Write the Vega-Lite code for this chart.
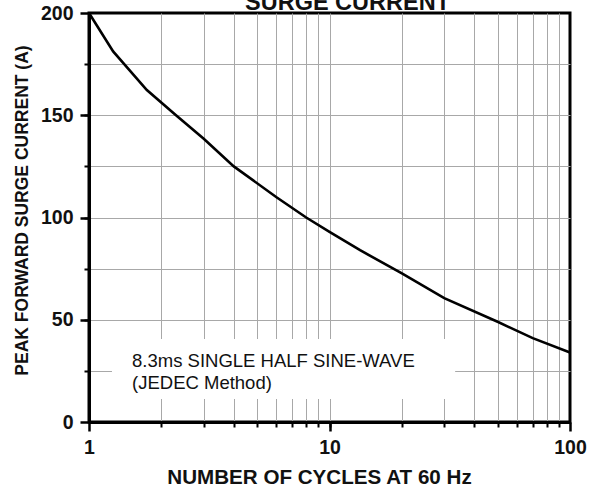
{
  "$schema": "https://vega.github.io/schema/vega-lite/v6.json",
  "width": 481,
  "height": 409,
  "autosize": {"type": "none"},
  "padding": {"left": 89, "top": 13, "right": 28, "bottom": 72},
  "background": "white",
  "config": {
    "font": "Liberation Sans",
    "view": {"stroke": "black", "strokeWidth": 3}
  },
  "datasets": {
    "curve": [
      {"cycles": 1, "amps": 200},
      {"cycles": 1.26, "amps": 181.2},
      {"cycles": 1.74, "amps": 162.3},
      {"cycles": 2.3, "amps": 150},
      {"cycles": 3, "amps": 138.5},
      {"cycles": 4, "amps": 125},
      {"cycles": 6, "amps": 110},
      {"cycles": 8, "amps": 100},
      {"cycles": 10, "amps": 93},
      {"cycles": 13.4, "amps": 84},
      {"cycles": 20, "amps": 72.7},
      {"cycles": 30, "amps": 60.6},
      {"cycles": 50, "amps": 49},
      {"cycles": 70, "amps": 41},
      {"cycles": 100, "amps": 34}
    ],
    "note": [{"note": "8.3ms SINGLE HALF SINE-WAVE\n(JEDEC Method)"}]
  },
  "layer": [
    {
      "data": {"name": "curve"},
      "mark": {"type": "line", "color": "black", "strokeWidth": 2.6},
      "encoding": {
        "x": {
          "field": "cycles", "type": "quantitative",
          "scale": {"type": "log", "domain": [1, 100], "nice": false},
          "axis": {
            "orient": "bottom", "title": null, "labels": false,
            "values": [2, 3, 4, 5, 6, 7, 8, 9, 10, 20, 30, 40, 50, 60, 70, 80, 90],
            "grid": true, "gridColor": "#a8a8a8", "gridWidth": 1, "gridOpacity": 1,
            "ticks": true, "tickSize": 5, "tickColor": "black", "tickWidth": 2,
            "domain": true, "domainColor": "black", "domainWidth": 3
          }
        },
        "y": {
          "field": "amps", "type": "quantitative",
          "scale": {"domain": [0, 200], "nice": false},
          "axis": {
            "orient": "left", "title": null, "labels": false,
            "values": [25, 50, 75, 100, 125, 150, 175],
            "grid": true, "gridColor": "#a8a8a8", "gridWidth": 1, "gridOpacity": 1,
            "ticks": true, "tickSize": 5, "tickColor": "black", "tickWidth": 2,
            "domain": true, "domainColor": "black", "domainWidth": 3
          }
        }
      }
    },
    {
      "data": {"name": "note"},
      "mark": {"type": "rect", "color": "white"},
      "encoding": {
        "x": {
          "datum": 1.246, "type": "quantitative",
          "scale": {"type": "log", "domain": [1, 100], "nice": false},
          "axis": {
            "orient": "bottom", "title": "NUMBER OF CYCLES AT 60 Hz",
            "values": [1, 10, 100], "grid": false,
            "ticks": true, "tickSize": 9, "tickColor": "black", "tickWidth": 2.5,
            "domain": false,
            "labelFont": "Liberation Sans", "labelFontSize": 19.5, "labelFontWeight": "bold", "labelColor": "#111111", "labelPadding": 7, "labelFlush": false,
            "titleFont": "Liberation Sans", "titleFontSize": 20.6, "titleFontWeight": "bold", "titleColor": "#111111", "titlePadding": 11, "titleX": 230
          }
        },
        "x2": {"datum": 33.3},
        "y": {
          "datum": 40.6, "type": "quantitative",
          "scale": {"domain": [0, 200], "nice": false},
          "axis": {
            "orient": "left", "title": "PEAK FORWARD SURGE CURRENT (A)",
            "values": [0, 50, 100, 150, 200], "grid": false,
            "ticks": true, "tickSize": 9, "tickColor": "black", "tickWidth": 2.5,
            "domain": false,
            "labelFont": "Liberation Sans", "labelFontSize": 19.5, "labelFontWeight": "bold", "labelColor": "#111111", "labelPadding": 7, "labelFlush": false,
            "titleFont": "Liberation Sans", "titleFontSize": 17.5, "titleFontWeight": "bold", "titleColor": "#111111", "titlePadding": 9, "titleY": 197
          }
        },
        "y2": {"datum": 11.2}
      }
    },
    {
      "data": {"name": "note"},
      "mark": {"type": "text", "align": "left", "baseline": "alphabetic", "lineBreak": "\n", "lineHeight": 22, "font": "Liberation Sans", "fontSize": 18.5, "color": "#111111"},
      "encoding": {
        "x": {
          "datum": 1.51, "type": "quantitative",
          "scale": {"type": "log", "domain": [1, 100], "nice": false},
          "axis": {
            "orient": "top", "title": "SURGE CURRENT", "values": [],
            "labels": false, "ticks": false, "domain": false, "grid": false,
            "titleFont": "Liberation Sans", "titleFontSize": 23.5, "titleFontWeight": "bold", "titleColor": "#111111",
            "titleX": 258, "titleY": -4, "titleBaseline": "alphabetic", "titleAlign": "center", "titleAnchor": "middle"
          }
        },
        "y": {"datum": 27, "type": "quantitative", "scale": {"domain": [0, 200], "nice": false}, "axis": null},
        "text": {"field": "note"}
      }
    }
  ],
  "resolve": {"axis": {"x": "independent", "y": "independent"}}
}
